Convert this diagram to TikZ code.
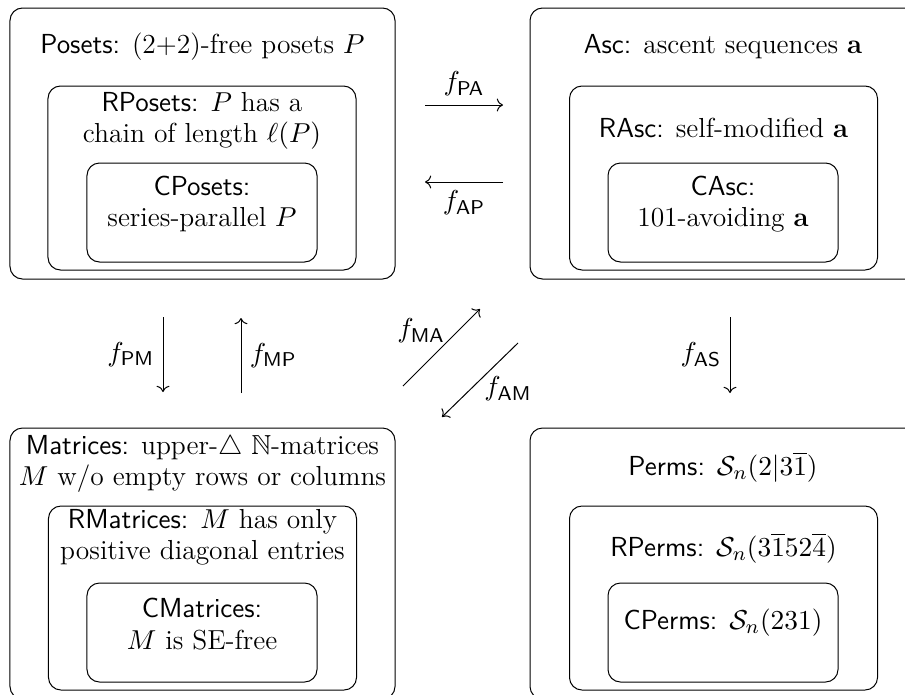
\documentclass[tikz,border=0pt]{standalone}
\usepackage{amsmath,amssymb}
\usetikzlibrary{arrows.meta}

\begin{document}
\begin{tikzpicture}[
    x=0.4pt, y=-0.4pt,
    every node/.style={font=\fontsize{11}{12.5}\selectfont},
    setbox/.style={draw, rounded corners=5pt, inner sep=0pt},
    outerbox/.style={setbox, minimum width=154pt, minimum height=108.4pt},
    midbox/.style={setbox, minimum width=123.2pt, minimum height=73.6pt},
    innerbox/.style={setbox, minimum width=92pt, minimum height=39.6pt},
    boxtext/.style={align=center, inner sep=0pt},
    map/.style={->}
]
\useasboundingbox (0,0) rectangle (905,694);

% posets
\node[outerbox] (Posets) at (202.5,143.5) {};
\node[midbox] (RPosets) at (202,178) {};
\node[innerbox] (CPosets) at (202,212.5) {};
\node[boxtext] (PosetsT) at (202.5,47) {\textsf{Posets:} (2+2)-free posets $P$};
\node[boxtext] (RPosetsT) at (202,121) {\textsf{RPosets:} $P$ has a\\chain of length $\ell(P)$};
\node[boxtext] (CPosetsT) at (202,204) {\textsf{CPosets:}\\series-parallel $P$};

% ascent sequences
\node[outerbox, minimum width=160pt] (Asc) at (730,143.5) {};
\node[midbox] (RAsc) at (723.5,178) {};
\node[innerbox] (CAsc) at (723,212.5) {};
\node[boxtext] (AscT) at (723,47) {\textsf{Asc:} ascent sequences \textbf{a}};
\node[boxtext] (RAscT) at (723.5,128) {\textsf{RAsc:} self-modified \textbf{a}};
\node[boxtext] (CAscT) at (723,204) {\textsf{CAsc:}\\101-avoiding \textbf{a}};

% matrices
\node[outerbox] (Matrices) at (202.5,563.5) {};
\node[midbox] (RMatrices) at (202.5,598) {};
\node[innerbox] (CMatrices) at (202,632.5) {};
\node[boxtext] (MatricesT) at (202.5,464) {\textsf{Matrices:} upper-$\triangle$ $\mathbb{N}$-matrices\\$M$ w/o empty rows or columns};
\node[boxtext] (RMatricesT) at (202.5,537) {\textsf{RMatrices:} $M$ has only\\positive diagonal entries};
\node[boxtext] (CMatricesT) at (202,624) {\textsf{CMatrices:}\\$M$ is SE-free};

% permutations
\node[outerbox, minimum width=160pt] (Perms) at (730,563.5) {};
\node[midbox] (RPerms) at (723.5,598) {};
\node[innerbox] (CPerms) at (723,632.5) {};
\node[boxtext] (PermsT) at (723,467) {\textsf{Perms:} $\mathcal{S}_n(2|3\overline{1})$};
\node[boxtext] (RPermsT) at (723.5,548) {\textsf{RPerms:} $\mathcal{S}_n(3\overline{1}52\overline{4})$};
\node[boxtext] (CPermsT) at (723,623) {\textsf{CPerms:} $\mathcal{S}_n(231)$};

% maps
\coordinate (pa0) at (425,105);  \coordinate (pa1) at (503,105);
\coordinate (ap0) at (503,182);  \coordinate (ap1) at (425,182);
\coordinate (pm0) at (163,317);  \coordinate (pm1) at (163,392);
\coordinate (mp0) at (241,393);  \coordinate (mp1) at (241,318);
\coordinate (as0) at (730,317);  \coordinate (as1) at (730,393);
\coordinate (ma0) at (403,386);  \coordinate (ma1) at (480,309);
\coordinate (am0) at (518,343);  \coordinate (am1) at (442,417);

\draw[map] (pa0) -- node[above] (fPA) {$f_{\mathsf{PA}}$} (pa1);
\draw[map] (ap0) -- node[below] (fAP) {$f_{\mathsf{AP}}$} (ap1);
\draw[map] (pm0) -- node[left] (fPM) {$f_{\mathsf{PM}}$} (pm1);
\draw[map] (mp0) -- node[right] (fMP) {$f_{\mathsf{MP}}$} (mp1);
\draw[map] (as0) -- node[left] (fAS) {$f_{\mathsf{AS}}$} (as1);
\draw[map] (ma0) -- node[above left, inner sep=0pt, pos=0.55] (fMA) {$f_{\mathsf{MA}}$} (ma1);
\draw[map] (am0) -- node[below right, inner sep=0pt, pos=0.45] (fAM) {$f_{\mathsf{AM}}$} (am1);

\end{tikzpicture}
\end{document}
